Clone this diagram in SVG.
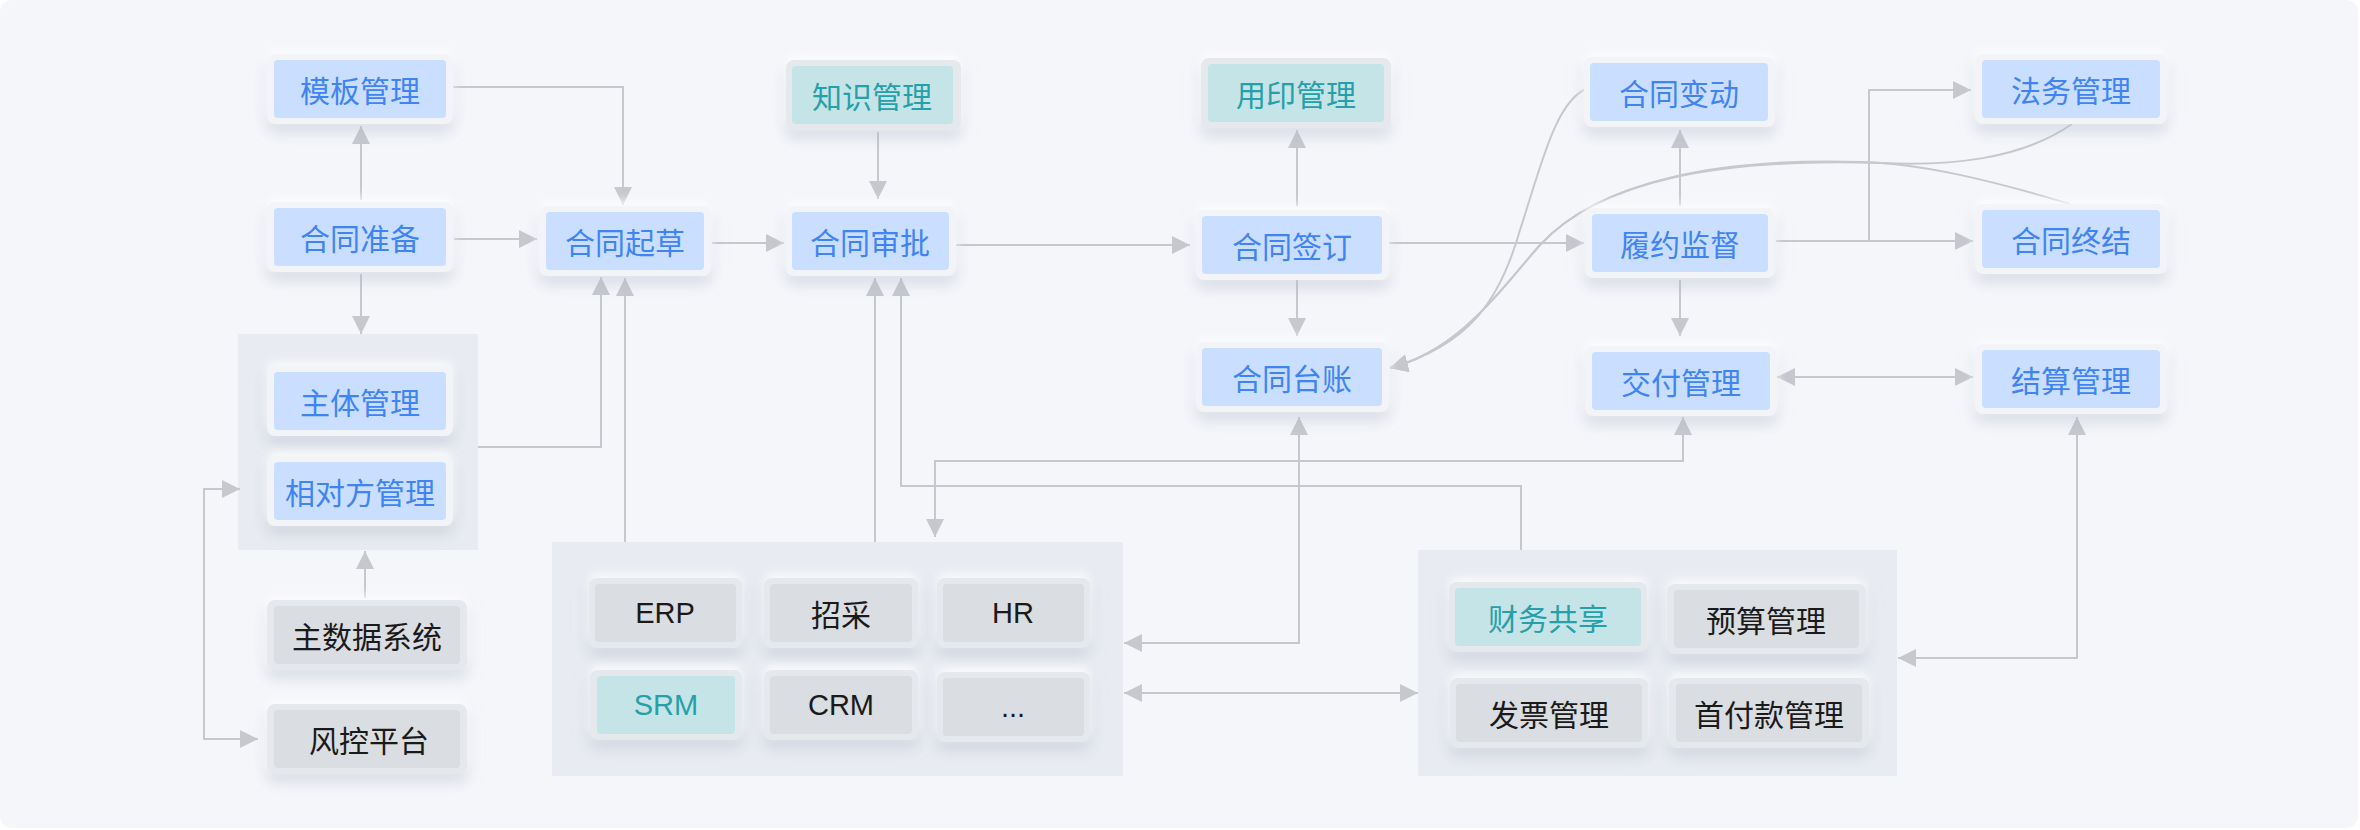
<svg xmlns="http://www.w3.org/2000/svg" width="2360" height="830" viewBox="0 0 2360 830">
<defs>
<style>
.frame{fill:#f2f4f8;filter:url(#sh)}
.frameg{fill:#e5e8ed;filter:url(#sh)}
.blue{fill:#cadfff}
.teal{fill:#c5e4e8}
.gray{fill:#dadde1}
.grp{fill:#e8ebf1}
text{font-family:"Noto Sans CJK SC","Liberation Sans",sans-serif;font-size:30px;text-anchor:middle;dominant-baseline:central}
.tb{fill:#3f84f2}
.tt{fill:#26a0a8}
.tk{fill:#1a1a1a}
.lat{font-family:"Liberation Sans","Noto Sans CJK SC",sans-serif;font-size:29px}
.c{fill:none;stroke:#c6c8ce;stroke-width:2}
.a{marker-end:url(#ar)}
.aa{marker-start:url(#ar);marker-end:url(#ar)}
</style>
<filter id="sh" x="-30%" y="-50%" width="160%" height="220%">
<feDropShadow dx="0" dy="-5" stdDeviation="5" flood-color="#ffffff" flood-opacity="0.8" result="w"/>
<feDropShadow in="w" dx="0" dy="9" stdDeviation="7" flood-color="#a7b1c4" flood-opacity="0.35"/>
</filter>
<marker id="ar" markerUnits="userSpaceOnUse" markerWidth="18" markerHeight="18" refX="18" refY="9" orient="auto-start-reverse">
<path d="M0,0 L18,9 L0,18 Z" fill="#c6c8ce"/>
</marker>
</defs>
<rect x="0" y="0" width="2360" height="830" fill="#ffffff"/>
<rect x="0" y="0" width="2358" height="828" rx="12" fill="#f5f6fa"/>

<g id="groups">
<rect id="group-subject" class="grp" x="238" y="334" width="240" height="216"/>
<rect id="group-systems" class="grp" x="552" y="542" width="571" height="234"/>
<rect id="group-finance" class="grp" x="1418" y="550" width="479" height="226"/>
</g>

<g id="connectors">
<path class="c a" d="M361,200 V126"/>
<path class="c a" d="M452,87 H623 V205"/>
<path class="c a" d="M454,239 H537"/>
<path class="c a" d="M361,274 V334"/>
<path class="c a" d="M712,243 H784"/>
<path class="c a" d="M478,447 H601 V277"/>
<path class="c a" d="M625,542 V278"/>
<path class="c a" d="M878,132 V199"/>
<path class="c a" d="M956,245 H1190"/>
<path class="c a" d="M875,542 V278"/>
<path class="c a" d="M1521,550 V486 H901 V278"/>
<path class="c aa" d="M935,537 V461 H1683 V417"/>
<path class="c aa" d="M1299,417 V643 H1124"/>
<path class="c aa" d="M1124,693 H1418"/>
<path class="c aa" d="M2077,417 V658 H1898"/>
<path class="c a" d="M1297,206 V130"/>
<path class="c a" d="M1297,280 V336"/>
<path class="c a" d="M1389,243 H1584"/>
<path class="c a" d="M1680,206 V130"/>
<path class="c a" d="M1680,280 V336"/>
<path class="c a" d="M1776,241 H1973"/>
<path class="c a" d="M1869,241 V90 H1971"/>
<path class="c aa" d="M1777,377 H1973"/>
<path class="c aa" d="M240,489 H204 V739 H258"/>
<path class="c a" d="M365,598 V551"/>
<path class="c a" d="M1588,88 C1555,100 1540,170 1520,230 C1500,300 1470,345 1390,368"/>
<path class="c a" d="M2072,124 C2020,160 1950,166 1880,163 C1720,158 1600,180 1540,245 C1500,290 1460,350 1390,368"/>
<path class="c a" d="M2070,204 C1990,180 1920,163 1860,162 C1720,158 1600,180 1540,245 C1500,290 1460,350 1390,368"/>
</g>

<g id="n-template"><rect class="frame" x="267" y="54" width="186" height="70" rx="8"/><rect class="blue" x="274" y="60" width="172" height="58" rx="4"/><text class="tb" x="360" y="89">模板管理</text></g>
<g id="n-prepare"><rect class="frame" x="267" y="202" width="186" height="70" rx="8"/><rect class="blue" x="274" y="208" width="172" height="58" rx="4"/><text class="tb" x="360" y="237">合同准备</text></g>
<g id="n-draft"><rect class="frame" x="539" y="206" width="172" height="70" rx="8"/><rect class="blue" x="546" y="212" width="158" height="58" rx="4"/><text class="tb" x="625" y="241">合同起草</text></g>
<g id="n-subject"><rect class="frame" x="267" y="366" width="186" height="70" rx="8"/><rect class="blue" x="274" y="372" width="172" height="58" rx="4"/><text class="tb" x="360" y="401">主体管理</text></g>
<g id="n-counterparty"><rect class="frame" x="267" y="456" width="186" height="70" rx="8"/><rect class="blue" x="274" y="462" width="172" height="58" rx="4"/><text class="tb" x="360" y="491">相对方管理</text></g>
<g id="n-mdm"><rect class="frameg" x="267" y="600" width="200" height="70" rx="8"/><rect class="gray" x="274" y="606" width="186" height="58" rx="4"/><text class="tk" x="367" y="635">主数据系统</text></g>
<g id="n-risk"><rect class="frameg" x="267" y="704" width="200" height="70" rx="8"/><rect class="gray" x="274" y="710" width="186" height="58" rx="4"/><text class="tk" x="369" y="739">风控平台</text></g>
<g id="n-knowledge"><rect class="frameg" x="786" y="60" width="175" height="70" rx="8"/><rect class="teal" x="792" y="66" width="161" height="58" rx="4"/><text class="tt" x="872" y="95">知识管理</text></g>
<g id="n-approve"><rect class="frame" x="786" y="206" width="170" height="70" rx="8"/><rect class="blue" x="792" y="212" width="157" height="58" rx="4"/><text class="tb" x="870" y="241">合同审批</text></g>
<g id="n-seal"><rect class="frameg" x="1201" y="58" width="190" height="70" rx="8"/><rect class="teal" x="1208" y="64" width="176" height="58" rx="4"/><text class="tt" x="1296" y="93">用印管理</text></g>
<g id="n-sign"><rect class="frame" x="1196" y="210" width="193" height="70" rx="8"/><rect class="blue" x="1202" y="216" width="180" height="58" rx="4"/><text class="tb" x="1292" y="245">合同签订</text></g>
<g id="n-ledger"><rect class="frame" x="1196" y="342" width="193" height="70" rx="8"/><rect class="blue" x="1202" y="348" width="180" height="58" rx="4"/><text class="tb" x="1292" y="377">合同台账</text></g>
<g id="n-change"><rect class="frame" x="1584" y="57" width="191" height="70" rx="8"/><rect class="blue" x="1590" y="63" width="178" height="58" rx="4"/><text class="tb" x="1679" y="92">合同变动</text></g>
<g id="n-monitor"><rect class="frame" x="1585" y="208" width="190" height="70" rx="8"/><rect class="blue" x="1592" y="214" width="176" height="58" rx="4"/><text class="tb" x="1680" y="243">履约监督</text></g>
<g id="n-delivery"><rect class="frame" x="1585" y="346" width="192" height="70" rx="8"/><rect class="blue" x="1592" y="352" width="178" height="58" rx="4"/><text class="tb" x="1681" y="381">交付管理</text></g>
<g id="n-legal"><rect class="frame" x="1975" y="54" width="192" height="70" rx="8"/><rect class="blue" x="1982" y="60" width="178" height="58" rx="4"/><text class="tb" x="2071" y="89">法务管理</text></g>
<g id="n-terminate"><rect class="frame" x="1975" y="204" width="192" height="70" rx="8"/><rect class="blue" x="1982" y="210" width="178" height="58" rx="4"/><text class="tb" x="2071" y="239">合同终结</text></g>
<g id="n-settle"><rect class="frame" x="1975" y="344" width="192" height="70" rx="8"/><rect class="blue" x="1982" y="350" width="178" height="58" rx="4"/><text class="tb" x="2071" y="379">结算管理</text></g>

<g id="n-erp"><rect class="frameg" x="589" y="578" width="153" height="70" rx="8"/><rect class="gray" x="595" y="584" width="141" height="58" rx="4"/><text class="tk lat" x="665" y="613">ERP</text></g>
<g id="n-purchase"><rect class="frameg" x="764" y="578" width="154" height="70" rx="8"/><rect class="gray" x="770" y="584" width="142" height="58" rx="4"/><text class="tk" x="841" y="613">招采</text></g>
<g id="n-hr"><rect class="frameg" x="937" y="578" width="153" height="70" rx="8"/><rect class="gray" x="943" y="584" width="141" height="58" rx="4"/><text class="tk lat" x="1013" y="613">HR</text></g>
<g id="n-srm"><rect class="frameg" x="590" y="670" width="152" height="70" rx="8"/><rect class="teal" x="597" y="676" width="138" height="58" rx="4"/><text class="tt lat" x="666" y="705">SRM</text></g>
<g id="n-crm"><rect class="frameg" x="764" y="670" width="154" height="70" rx="8"/><rect class="gray" x="770" y="676" width="142" height="58" rx="4"/><text class="tk lat" x="841" y="705">CRM</text></g>
<g id="n-more"><rect class="frameg" x="937" y="672" width="153" height="70" rx="8"/><rect class="gray" x="943" y="678" width="141" height="58" rx="4"/><text class="tk lat" x="1013" y="707">...</text></g>

<g id="n-fss"><rect class="frameg" x="1449" y="582" width="198" height="70" rx="8"/><rect class="teal" x="1455" y="588" width="186" height="58" rx="4"/><text class="tt" x="1548" y="617">财务共享</text></g>
<g id="n-budget"><rect class="frameg" x="1667" y="584" width="199" height="70" rx="8"/><rect class="gray" x="1674" y="590" width="185" height="58" rx="4"/><text class="tk" x="1766" y="619">预算管理</text></g>
<g id="n-invoice"><rect class="frameg" x="1450" y="678" width="198" height="70" rx="8"/><rect class="gray" x="1456" y="684" width="186" height="58" rx="4"/><text class="tk" x="1549" y="713">发票管理</text></g>
<g id="n-payment"><rect class="frameg" x="1669" y="678" width="200" height="70" rx="8"/><rect class="gray" x="1676" y="684" width="186" height="58" rx="4"/><text class="tk" x="1769" y="713">首付款管理</text></g>
</svg>
